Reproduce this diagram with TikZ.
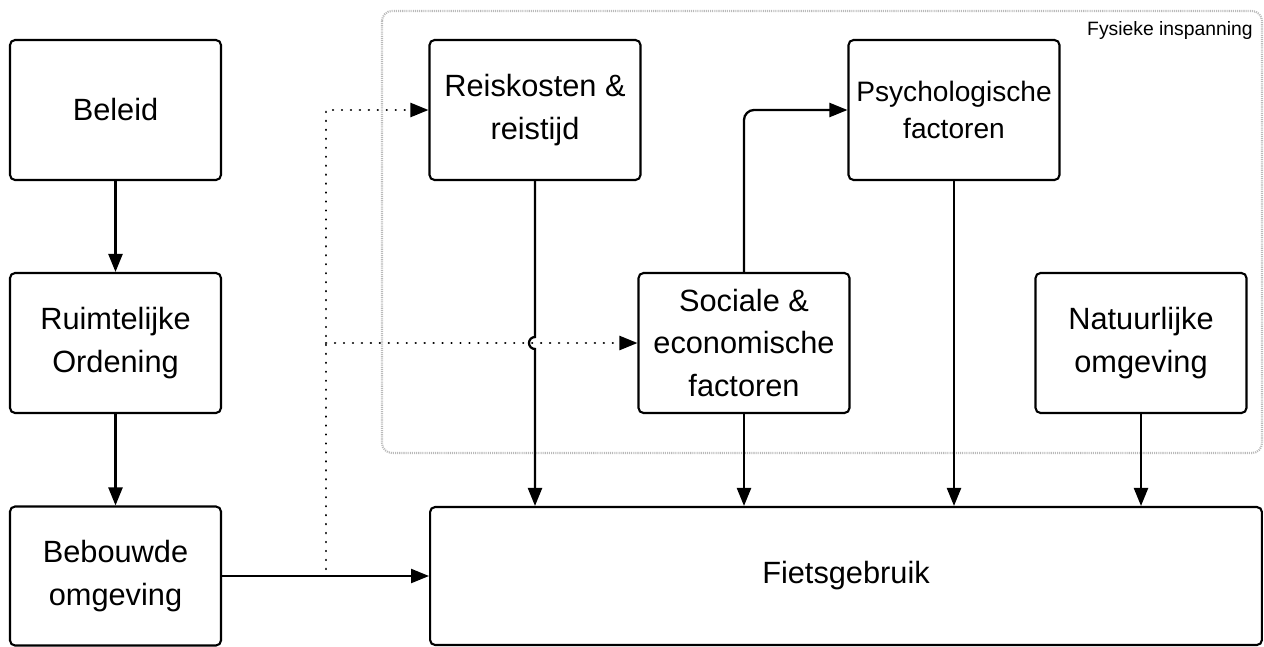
\documentclass[tikz,border=0pt]{standalone}
\usepackage{fontspec}
\setmainfont{Liberation Sans}
\usepackage{tikz}
\usetikzlibrary{arrows.meta, positioning}

\tikzset{
	factor/.style={draw, line width=1.2pt, rounded corners=0.1cm, align=center,
		minimum width=4.22cm, minimum height=2.8cm, inner sep=2pt,
		font=\fontsize{17.5}{24}\selectfont},
	arr/.style={line width=1.3pt, -{Triangle[length=0.36cm, width=0.28cm]}},
	dotline/.style={arr, dash pattern=on 0.1pt off 5pt, line cap=round},
	groupframe/.style={draw=gray!55, line width=1.2pt, dash pattern=on 0.6pt off 0.6pt, rounded corners=0.2cm}
}

\begin{document}
\begin{tikzpicture}[x=0.02cm, y=-0.02cm]
				\useasboundingbox (0, 0) rectangle (1264, 646);
				% Group frame:
				\draw[groupframe] (382, 11) rectangle (1262, 453);
				\node[anchor=base east, inner sep=0pt, font=\fontsize{11}{13}\selectfont](G1) at (1253, 35){Fysieke inspanning};
				% Nodes:
				\node[factor](beleid) at (115.5, 110){Beleid};
				\node[factor](ordening) at (115.5, 343){Ruimtelijke\\Ordening};
				\node[factor, minimum height=2.78cm](bebouwd) at (115.5, 576){Bebouwde\\omgeving};
				\node[factor](kosten) at (535, 110){Reiskosten \&\\reistijd};
				\node[factor, font=\fontsize{16}{21}\selectfont](psych) at (954, 110){Psychologische\\factoren};
				\node[factor](sociaal) at (744, 343){Sociale \&\\economische\\factoren};
				\node[factor](natuur) at (1141, 343){Natuurlijke\\omgeving};
				\node[factor, minimum width=16.64cm, minimum height=2.76cm](fiets) at (846, 576){Fietsgebruik};
				% Connectors:
				\draw[arr] (beleid) -- (ordening);
				\draw[arr] (ordening) -- (bebouwd);
				\draw[arr] (bebouwd) -- (fiets);
				\coordinate (split) at (326, 576);
				\coordinate (hop) at (kosten.south |- sociaal.west);
				\draw[dotline] ([yshift=0.14cm]split) |- (kosten.west);
				\draw[dotline] (split |- sociaal.west) -- (sociaal.west);
				\draw[arr] (kosten.south) -- ([yshift=0.12cm]hop) arc[start angle=90, end angle=270, radius=0.12cm] -- (kosten.south |- fiets.north);
				\draw[arr, rounded corners=0.2cm] (sociaal.north) |- (psych.west);
				\draw[arr] (sociaal.south) -- (sociaal.south |- fiets.north);
				\draw[arr] (psych.south) -- (psych.south |- fiets.north);
				\draw[arr] (natuur.south) -- (natuur.south |- fiets.north);
			\end{tikzpicture}
\end{document}
